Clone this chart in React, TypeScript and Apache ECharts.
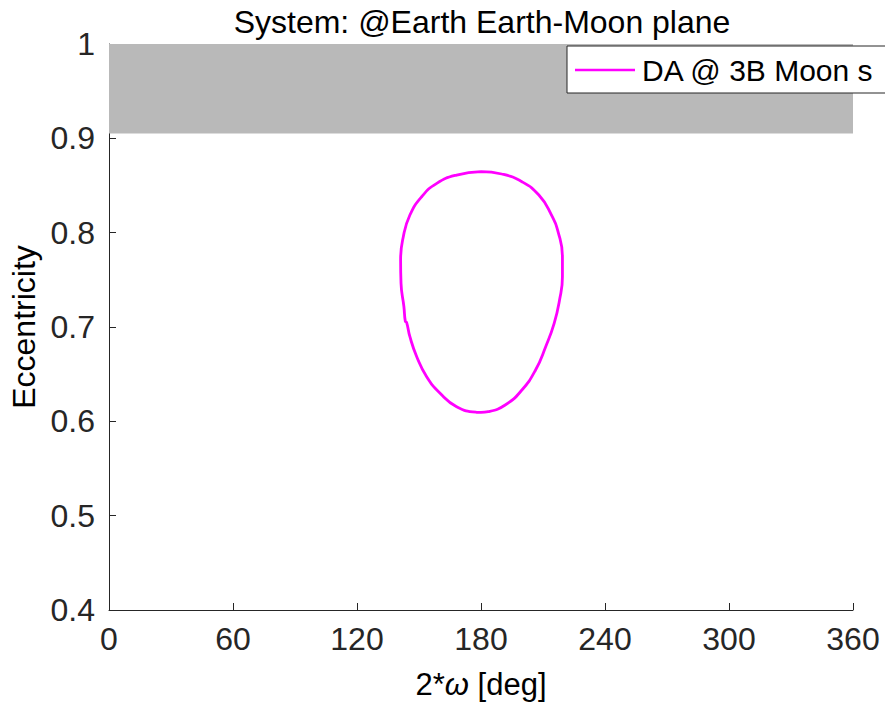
import React, { useEffect, useRef } from "react";
import * as echarts from "echarts";

const titleText = "System: @Earth Earth-Moon plane";
const seriesName = "DA @ 3B Moon s";
const xTicks = [0, 60, 120, 180, 240, 300, 360];
const yTicks = [0.4, 0.5, 0.6, 0.7, 0.8, 0.9, 1];
const forbiddenLow = 0.905;
const forbiddenHigh = 1;

// closed loop: 2*omega [deg], eccentricity
const loopOmega = [
  180.0, 190.0, 199.8, 208.0, 213.7, 217.5, 219.4, 219.4, 218.0, 215.4, 211.3, 206.4, 199.8, 191.7, 183.5,
  180.0, 177.9, 168.2, 160.2, 153.7, 148.9, 145.6, 144.0, 143.4, 142.7, 141.3, 141.1, 142.4, 145.6, 151.3,
  158.6, 168.2, 180.0,
];
const loopEcc = [
  0.8648, 0.8622, 0.854, 0.8399, 0.8205, 0.7993, 0.7745, 0.7533, 0.7286, 0.7039, 0.6791, 0.6544, 0.6332,
  0.6173, 0.6102, 0.6094, 0.6096, 0.6155, 0.6297, 0.6473, 0.6685, 0.6897, 0.705, 0.7058, 0.7215, 0.7463,
  0.771, 0.7957, 0.8187, 0.8381, 0.8523, 0.8611, 0.8648,
];

const FONT = "'Liberation Sans', Arial, sans-serif";
const AX = "#262626";
const FS = 32;

export default function App() {
  const ref = useRef<HTMLDivElement>(null);
  useEffect(() => {
    if (!ref.current) return;
    const chart = echarts.init(ref.current, null, { renderer: "svg" });
    const data = loopOmega.map((x, i) => [x, loopEcc[i]]);
    chart.setOption({
      animation: false,
      backgroundColor: "#ffffff",
      textStyle: { fontFamily: FONT },
      grid: { left: 109, right: 32, top: 44, bottom: 93, containLabel: false, outerBoundsMode: "none" },
      graphic: [
        {
          type: "text",
          x: 482,
          y: 22,
          style: {
            text: titleText,
            fontFamily: FONT,
            fontSize: FS,
            fill: "#000",
            textAlign: "center",
            textVerticalAlign: "middle",
          },
        },
      ],
      legend: {
        left: 567,
        top: 46,
        orient: "horizontal",
        padding: [6, 120, 5, 8],
        backgroundColor: "#ffffff",
        borderColor: AX,
        borderWidth: 1,
        borderRadius: 0,
        icon: "rect",
        itemWidth: 60,
        itemHeight: 2.5,
        itemGap: 0,
        itemStyle: { color: "#ff00ff" },
        textStyle: { fontFamily: FONT, fontSize: 30, lineHeight: 36, color: "#000", padding: [0, 0, 0, 2] },
        data: [seriesName],
      },
      xAxis: {
        type: "value",
        min: xTicks[0],
        max: xTicks[xTicks.length - 1],
        interval: 60,
        name: "2*{i|ω} [deg]",
        nameLocation: "middle",
        nameGap: 58,
        nameTextStyle: {
          fontFamily: FONT,
          fontSize: 31,
          lineHeight: 32,
          color: "#000",
          rich: { i: { fontFamily: FONT, fontSize: 31, lineHeight: 32, fontStyle: "italic", color: "#000" } },
        },
        axisLine: { show: true, lineStyle: { color: AX, width: 1 } },
        axisTick: { show: true, inside: true, length: 7, lineStyle: { color: AX } },
        axisLabel: { fontFamily: FONT, fontSize: FS, color: AX, margin: 13 },
        splitLine: { show: false },
      },
      yAxis: {
        type: "value",
        min: yTicks[0],
        max: yTicks[yTicks.length - 1],
        interval: 0.1,
        name: "Eccentricity",
        nameLocation: "middle",
        nameGap: 66,
        nameTextStyle: { fontFamily: FONT, fontSize: FS, color: "#000" },
        axisLine: { show: true, lineStyle: { color: AX, width: 1 } },
        axisTick: { show: true, inside: true, length: 7, lineStyle: { color: AX } },
        axisLabel: {
          fontFamily: FONT,
          fontSize: FS,
          color: AX,
          margin: 14,
          formatter: (v: number) => String(Math.round(v * 10) / 10),
        },
        splitLine: { show: false },
      },
      series: [
        {
          name: seriesName,
          type: "line",
          data,
          smooth: 0.5,
          symbol: "none",
          showSymbol: false,
          lineStyle: { color: "#ff00ff", width: 2.8 },
          itemStyle: { color: "#ff00ff" },
          z: 3,
          markArea: {
            silent: true,
            itemStyle: { color: "#b9b9b9", opacity: 1 },
            data: [[{ xAxis: xTicks[0], yAxis: forbiddenLow }, { xAxis: xTicks[xTicks.length - 1], yAxis: forbiddenHigh }]],
          },
        },
      ],
    });
    return () => chart.dispose();
  }, []);
  return (
    <div
      ref={ref}
      style={{ position: "fixed", left: 0, top: 0, width: 885, height: 703, background: "#fff" }}
    />
  );
}
